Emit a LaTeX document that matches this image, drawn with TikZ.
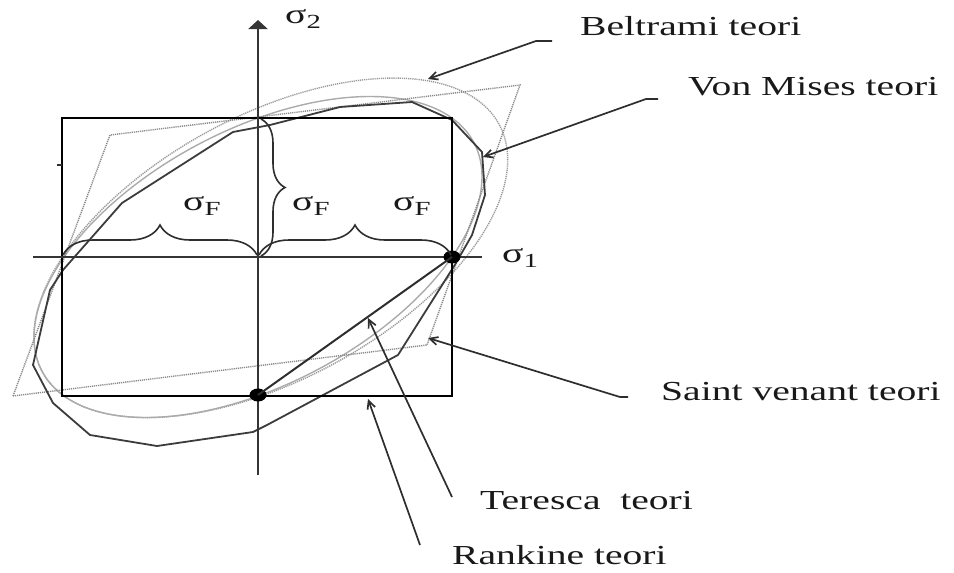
\documentclass[tikz,border=0pt]{standalone}
\usepackage{fontspec}
\setmainfont{Liberation Serif}
\usetikzlibrary{arrows.meta,decorations.pathreplacing,shapes.geometric}
\definecolor{ink}{HTML}{2E2E2E}
\definecolor{axisc}{HTML}{353535}
\definecolor{polyc}{HTML}{3C3C3C}
\definecolor{beltc}{HTML}{999999}
\definecolor{misesc}{HTML}{ABABAB}
\definecolor{venc}{HTML}{8A8A8A}
\newcommand{\sgsub}[1]{\raisebox{-5pt}{\fontsize{20}{20}\selectfont #1}}
\newcommand{\wide}[1]{\scalebox{1.44}[1]{#1}}
\begin{document}
\begin{tikzpicture}[x=1pt,y=-1pt,
  lbl/.style={inner sep=0pt, anchor=base west, text=black!90, font=\fontsize{27.5}{30}\selectfont},
  arr/.style={draw=ink, line width=1.7pt, -{Straight Barb[length=8pt,width=8pt]}},
  axisline/.style={draw=axisc, line width=2.4pt},
  rectline/.style={draw=black, line width=2pt},
  polyline/.style={draw=polyc, line width=1.8pt, line join=round},
  beltline/.style={draw=beltc, line width=1.4pt, dash pattern=on 1.2pt off 0.9pt},
  misesline/.style={draw=misesc, line width=1.4pt},
  venline/.style={draw=venc, line width=1.4pt, dash pattern=on 1.2pt off 0.9pt},
  brc/.style={draw=ink, line width=1.6pt, decorate},
  dotn/.style={ellipse, fill=black, inner sep=0pt, minimum width=17pt, minimum height=13pt}
]
\useasboundingbox (0,0) rectangle (954,573);

% Beltrami curve (dotted), enlarged towards the first quadrant
\draw[beltline] plot[domain=0:360, samples=121, smooth]
  ({258+194*(1+0.13*((1+cos(\x))/2)^2)*(cos(\x)+0.57735*sin(\x))},
   {257-139*(1+0.13*((1+cos(\x))/2)^2)*(cos(\x)-0.57735*sin(\x))}) -- cycle;
% Von Mises ellipse (light solid)
\draw[misesline] plot[domain=0:360, samples=121, smooth]
  ({258+194*(cos(\x)+0.57735*sin(\x))}, {257-139*(cos(\x)-0.57735*sin(\x))}) -- cycle;
% Saint Venant parallelogram
\draw[venline] (13,396) -- (110,135) -- (520,85) -- (427,345) -- cycle;
% dark polygon
\draw[polyline] (340,107) -- (412,102) -- (452,120) -- (482,152) -- (485,195) -- (472,235)
  -- (456,263) -- (398,355) -- (267,425) -- (253,432) -- (157,446) -- (90,435) -- (53,403)
  -- (33,365) -- (50,290) -- (63,270) -- (122,203) -- (233,132) -- (270,125) -- cycle;
% Rankine square
\draw[rectline] (62,118) rectangle (452,396);
\draw[draw=ink, line width=1.2pt] (57,165) -- (62,165);
% axes
\draw[axisline, -{Triangle[width=19pt,length=9pt]}] (258,475) -- (258,20);
\draw[axisline] (33,257) -- (482,257);
% dots and Tresca line
\node[dotn] (p1) at (452,257) {};
\node[dotn] (p2) at (258,395) {};
\draw[draw=ink, line width=2pt] (p1.center) -- (p2.center);
% braces
\draw[brc, decoration={brace, amplitude=30pt}] (63,255) -- (257,255);
\draw[brc, decoration={brace, amplitude=30pt}] (259,255) -- (451,255);
\draw[brc, decoration={brace, amplitude=24pt}] (261,119) -- (261,256);
% sigma labels
\node[lbl] (s2) at (285,23) {\wide{σ\sgsub{2}}};
\node[lbl] (s1) at (502,262) {\wide{σ\sgsub{1}}};
\node[lbl] (sfa) at (183,210) {\wide{σ\sgsub{F}}};
\node[lbl] (sfb) at (292,210) {\wide{σ\sgsub{F}}};
\node[lbl] (sfc) at (393,210) {\wide{σ\sgsub{F}}};
% theory labels
\node[lbl] (lb) at (580,35) {\wide{Beltrami teori}};
\node[lbl] (lv) at (688,95) {\wide{Von Mises teori}};
\node[lbl] (ls) at (661,400) {\wide{Saint venant teori}};
\node[lbl] (lt) at (480,509) {\wide{Teresca\ \ teori}};
\node[lbl] (lr) at (452,564) {\wide{Rankine teori}};
% arrows
\coordinate (bS) at (552,41); \coordinate (bK) at (536,41); \coordinate (bT) at (428,79);
\coordinate (vS) at (658,99); \coordinate (vK) at (646,99); \coordinate (vT) at (483,157);
\coordinate (sS) at (628,397); \coordinate (sK) at (620,397); \coordinate (sT) at (428,338);
\coordinate (tS) at (452,497); \coordinate (tT) at (368,318);
\coordinate (rS) at (420,545); \coordinate (rT) at (368,399);
\draw[arr] (bS) -- (bK) -- (bT);
\draw[arr] (vS) -- (vK) -- (vT);
\draw[arr] (sS) -- (sK) -- (sT);
\draw[arr] (tS) -- (tT);
\draw[arr] (rS) -- (rT);
\end{tikzpicture}
\end{document}
